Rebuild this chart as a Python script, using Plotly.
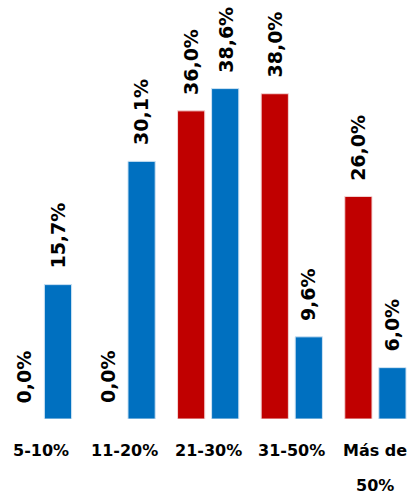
import plotly.graph_objects as go

# Categorías y porcentajes por serie
categorias = ["5-10%", "11-20%", "21-30%", "31-50%", "Más de 50%"]
etiquetas_eje = ["5-10%", "11-20%", "21-30%", "31-50%", "Más de<br>50%"]
serie_roja = [0.0, 0.0, 36.0, 38.0, 26.0]
serie_azul = [15.7, 30.1, 38.6, 9.6, 6.0]

ROJO = "#C00000"
AZUL = "#0070C0"
FUENTE = "DejaVu Sans"


def fmt(v):
    return f"{v:.1f}".replace(".", ",") + "%"


def bordes(serie):
    # sin contorno en las barras de altura cero
    return [0 if v == 0 else 1 for v in serie]


fig = go.Figure()
fig.add_trace(go.Bar(x=categorias, y=serie_roja,
                     marker=dict(color=ROJO, line=dict(color="#f3d6d6", width=bordes(serie_roja))),
                     name="rojo"))
fig.add_trace(go.Bar(x=categorias, y=serie_azul,
                     marker=dict(color=AZUL, line=dict(color="#cfe3f3", width=bordes(serie_azul))),
                     name="azul"))

anotaciones = []
# Etiquetas de valor, giradas, encima de cada barra
desplazamiento = 17
for serie, dx in ((serie_roja, -desplazamiento), (serie_azul, desplazamiento)):
    for cat, v in zip(categorias, serie):
        anotaciones.append(dict(
            x=cat, y=v, xref="x", yref="y", text=fmt(v), showarrow=False,
            textangle=-90, xanchor="center", yanchor="bottom",
            xshift=dx, yshift=14,
            font=dict(family=FUENTE, size=19, color="black", weight="bold"),
        ))

# Etiquetas de categoría bajo el eje, una anotación por línea
for cat, etiqueta in zip(categorias, etiquetas_eje):
    for i, linea in enumerate(etiqueta.split("<br>")):
        anotaciones.append(dict(
            x=cat, y=0, xref="x", yref="y", text=linea, showarrow=False,
            xanchor="center", yanchor="middle", yshift=-31 - 35 * i,
            font=dict(family=FUENTE, size=16, color="black", weight="bold"),
        ))

fig.update_layout(
    width=407, height=497,
    margin=dict(l=0, r=0, t=0, b=78),
    paper_bgcolor="white", plot_bgcolor="white",
    barmode="group", bargap=0.186, bargroupgap=0.2,
    showlegend=False,
    annotations=anotaciones,
    xaxis=dict(range=[-0.49, 4.378], showticklabels=False, showgrid=False,
               zeroline=False, showline=False, ticks=""),
    yaxis=dict(range=[0, 48.95], visible=False),
)

fig.write_html("out.html")
